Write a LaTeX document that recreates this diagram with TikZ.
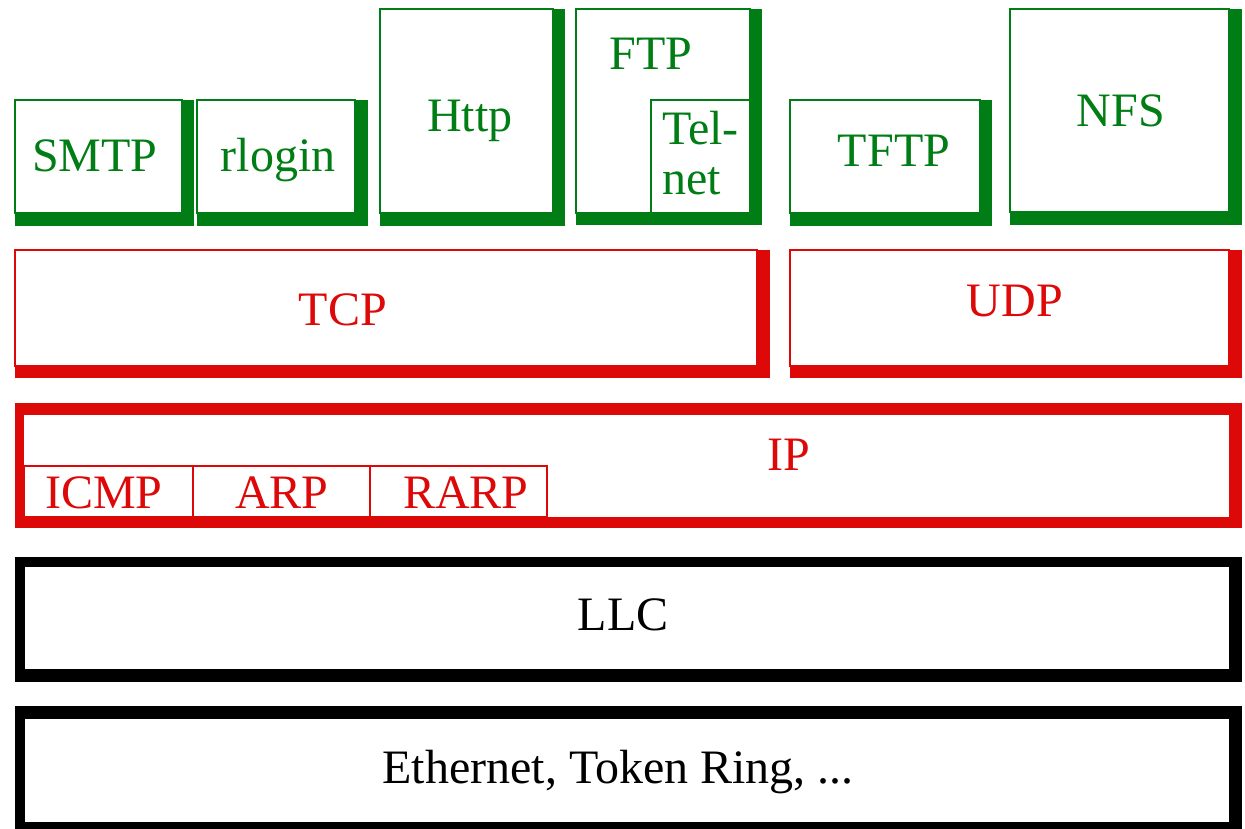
\documentclass[tikz,border=0pt]{standalone}
\usepackage{fontspec}
\setmainfont{Liberation Serif}
\definecolor{appgreen}{RGB}{0,125,20}
\definecolor{netred}{RGB}{221,8,8}
\tikzset{
  gshade/.style={fill=appgreen},
  gbox/.style={draw=appgreen,fill=white,line width=2.5pt},
  gtext/.style={text=appgreen,anchor=base,inner sep=0pt},
  rshade/.style={fill=netred},
  rbox/.style={draw=netred,fill=white,line width=2.5pt},
  rtext/.style={text=netred,anchor=base,inner sep=0pt},
  kbox/.style={fill=white},
  ktext/.style={text=black,anchor=base,inner sep=0pt}
}
\begin{document}
\begin{tikzpicture}[x=1pt,y=-1pt,font=\fontsize{48}{50}\selectfont]
\useasboundingbox (0,0) rectangle (1245,829);
% application layer
\fill[gshade] (15,100) rectangle (194,226);
\draw[gbox] (15,100) rectangle (182,213);
\node[gtext] (smtp) at (95,172) {SMTP};
\fill[gshade] (197,100) rectangle (368,226);
\draw[gbox] (197,100) rectangle (355,213);
\node[gtext] (rlogin) at (278,172) {rlogin};
\fill[gshade] (380,9) rectangle (565,226);
\draw[gbox] (380,9) rectangle (553,213);
\node[gtext] (http) at (470,132) {Http};
\fill[gshade] (576,9) rectangle (762,225);
\draw[gbox] (576,9) rectangle (750,213);
\node[gtext] (ftp) at (651,70) {FTP};
\draw[gbox] (651,100) rectangle (750,213);
\node[gtext,anchor=base west,align=left] (telnet) at (662,195) {Tel-\\net};
\fill[gshade] (790,100) rectangle (992,226);
\draw[gbox] (790,100) rectangle (980,213);
\node[gtext] (tftp) at (894,167) {TFTP};
\fill[gshade] (1010,9) rectangle (1242,225);
\draw[gbox] (1010,9) rectangle (1229,212);
\node[gtext] (nfs) at (1121,127) {NFS};
% transport layer
\fill[rshade] (15,250) rectangle (770,378);
\draw[rbox] (15,250) rectangle (757,366);
\node[rtext] (tcp) at (343,325) {TCP};
\fill[rshade] (790,250) rectangle (1242,378);
\draw[rbox] (790,250) rectangle (1229,366);
\node[rtext] (udp) at (1015,316) {UDP};
% network layer
\fill[rshade] (15,403) rectangle (1242,528);
\fill[kbox] (24,415) rectangle (1229,517);
\node[rtext] (ip) at (789,470) {IP};
\draw[rbox] (24,466) rectangle (193,517);
\node[rtext] (icmp) at (104,508) {ICMP};
\draw[rbox] (193,466) rectangle (370,517);
\node[rtext] (arp) at (282,508) {ARP};
\draw[rbox] (370,466) rectangle (547,517);
\node[rtext] (rarp) at (466,508) {RARP};
% link layer
\fill (15,557) rectangle (1242,682);
\fill[kbox] (25,567) rectangle (1229,669);
\node[ktext] (llc) at (623,630) {LLC};
\fill (15,706) rectangle (1242,829);
\fill[kbox] (25,719) rectangle (1229,822);
\node[ktext] (mac) at (618,783) {Ethernet, Token Ring, ...};
\end{tikzpicture}
\end{document}
